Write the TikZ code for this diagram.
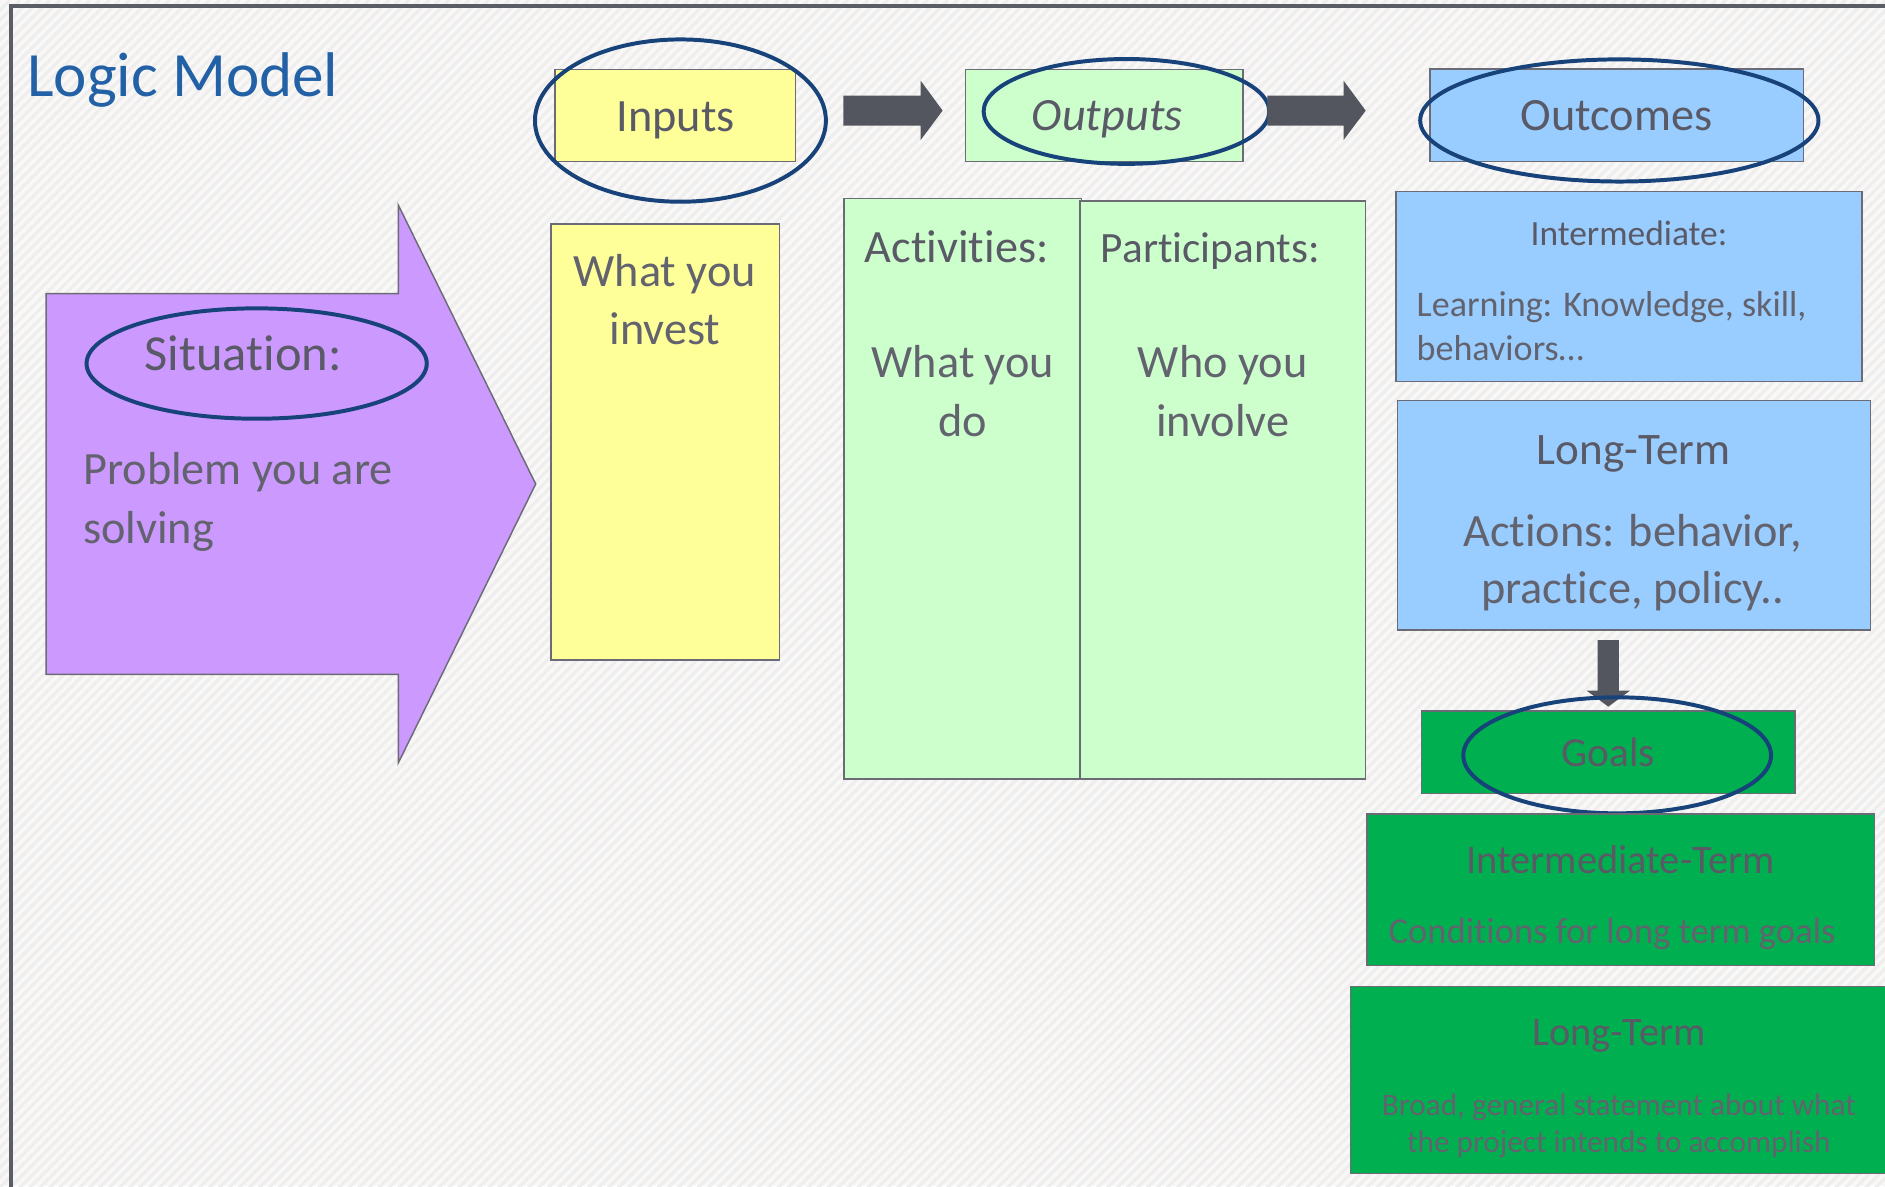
\documentclass[tikz,border=0pt]{standalone}
\usepackage{fontspec}
\setmainfont{Carlito}[RawFeature={-liga;-clig;-calt;-dlig}]
\usetikzlibrary{shapes.geometric,fit}
\newcommand\tibreak{\kern0pt }
\definecolor{tgray}{HTML}{595A66}
\definecolor{bgray}{HTML}{62636E}
\definecolor{titleblue}{HTML}{2361A6}
\definecolor{ringc}{HTML}{17427A}
\definecolor{arrowc}{HTML}{53565F}
\definecolor{framec}{HTML}{5A5D66}
\definecolor{boxline}{HTML}{6A6B74}
\definecolor{bgbase}{HTML}{F9F8F6}
\definecolor{stripec}{HTML}{EFEEEE}
\definecolor{yel}{HTML}{FFFF99}
\definecolor{lgreen}{HTML}{CCFFCC}
\definecolor{lblue}{HTML}{99CCFF}
\definecolor{lpurple}{HTML}{CC99FF}
\definecolor{dgreen}{HTML}{00B050}
\begin{document}
\begin{tikzpicture}[x=1bp,y=-1bp,
  fsz/.style={font=\fontsize{#1bp}{#1bp}\selectfont},
  fszi/.style={font=\fontsize{#1bp}{#1bp}\selectfont\itshape},
  lbl/.style={inner sep=0pt, outer sep=0pt, text=tgray, anchor=base},
  lblw/.style={inner sep=0pt, outer sep=0pt, text=tgray, anchor=base west},
  body/.style={text=bgray},
  box/.style={draw=boxline, line width=1.2bp, inner sep=0pt, outer sep=0pt, rectangle},
  ring/.style={draw=ringc, line width=3.3bp, ellipse, inner sep=0pt, outer sep=0pt},
  blockarrow/.style={fill=arrowc}]
\useasboundingbox (0,0) rectangle (1568,986.6);
% background
\fill[bgbase] (0,0) rectangle (1568,986.6);
\begin{scope}
  \clip (0,0) rectangle (1568,986.6);
  \foreach \i in {0,8.3,...,2565} \draw[stripec, line width=2.6bp] (\i-990,990) -- (\i,0);
\end{scope}
% frame
\draw[framec, line width=3.4bp] (9.3,990) -- (9.3,5.3) -- (1570,5.3);
% title
\node[inner sep=0pt, anchor=base west, text=titleblue, fsz=52.5] (title) at (22.5,80) {Logic Model};

% situation arrow
\draw[draw=boxline, line width=1.2bp, fill=lpurple] (38.3,244.3) -- (331.3,244.3) -- (331.3,170.5) -- (445.6,402.6) -- (331.3,634.7) -- (331.3,560.9) -- (38.3,560.9) -- cycle;
\node[ring, minimum width=283bp, minimum height=91.8bp] (sitring) at (213.5,302.4) {};
\node[lbl, fsz=42] (sit) at (202.4,307.8) {Situat\tibreak ion:};
\node[lblw, body, fsz=38.5] (prob1) at (69.3,403.4) {Problem you are};
\node[lblw, body, fsz=38.5] (prob2) at (69.3,452) {solving};

% top header boxes
\node[box, fill=yel, fit={(461.7,57.7) (661.9,134.5)}] (inputs) {};
\node[box, fill=lgreen, fit={(803.3,57.7) (1034.1,134.5)}] (outputs) {};
\node[box, fill=lblue, fit={(1189.5,57.4) (1500.3,134.5)}] (outcomes) {};
\node[lbl, fsz=38.5] (inputst) at (562,109) {Inputs};
\node[lbl, fszi=38.5] (outputst) at (921,108.7) {Outputs};
\node[lbl, fsz=38.5] (outcomest) at (1344.8,108.7) {Outcomes};
\node[ring, minimum width=242bp, minimum height=135bp] (inring) at (566,100.3) {};
\node[ring, minimum width=237.6bp, minimum height=87.2bp] (outring) at (937,92.7) {};
\node[ring, minimum width=331.3bp, minimum height=101.6bp] (ocring) at (1347,100.2) {};

% block arrows
\fill[blockarrow] (701.5,79.6) -- (765.8,79.6) -- (765.8,67.1) -- (784.1,92) -- (765.8,116.5) -- (765.8,104.5) -- (701.5,104.5) -- cycle;
\fill[blockarrow] (1054.3,79.6) -- (1117.6,79.6) -- (1117.6,67.1) -- (1136,92) -- (1117.6,116.5) -- (1117.6,104.5) -- (1054.3,104.5) -- cycle;

% inputs body
\node[box, fill=yel, fit={(458.3,186.3) (648.3,549)}] (invest) {};
\node[lbl, body, fsz=38.5] (invest1) at (553,238.5) {What you};
\node[lbl, body, fsz=38.5] (invest2) at (553,286.4) {invest};

% outputs body
\node[box, fill=lgreen, fit={(702,165) (899.5,648)}] (activities) {};
\node[box, fill=lgreen, fit={(898.4,167.3) (1136,648)}] (participants) {};
\node[lblw, fsz=38.5] (actt) at (719.5,218.5) {Act\tibreak ivit\tibreak ies:};
\node[lblw, fsz=36] (partt) at (915.8,218.5) {Part\tibreak icipants:};
\node[lbl, body, fsz=38.5] (act1) at (801,314.1) {What you};
\node[lbl, body, fsz=38.5] (act2) at (801,363.3) {do};
\node[lbl, body, fsz=38.5] (part1) at (1017,314.1) {Who you};
\node[lbl, body, fsz=38.5] (part2) at (1017,363.3) {involve};

% outcomes body
\node[box, fill=lblue, fit={(1161.2,159.4) (1549,317.5)}] (interm) {};
\node[lbl, fsz=29.5] (intermt) at (1355,204.3) {Intermediate:};
\node[lblw, body, fsz=30] (interm1) at (1178.4,262.9) {Learning: Knowledge, skill,};
\node[lblw, body, fsz=30] (interm2) at (1178.4,299.5) {behaviors…};
\node[box, fill=lblue, fit={(1162.3,333.3) (1555.7,524)}] (longterm) {};
\node[lbl, fsz=37.5] (longtermt) at (1359,386) {Long-Term};
\node[lbl, body, fsz=38.5] (long1) at (1358,454.7) {Act\tibreak ions: behavior,};
\node[lbl, body, fsz=38.5] (long2) at (1358,501.9) {practice, policy..};

% down arrow
\fill[blockarrow] (1329,532.4) -- (1346.7,532.4) -- (1346.7,574.5) -- (1355.9,574.5) -- (1337.8,587.8) -- (1319.8,574.5) -- (1329,574.5) -- cycle;

% goals
\node[box, fill=dgreen, fit={(1182.6,591.4) (1493,659.9)}] (goals) {};
\node[lbl, fsz=34.4] (goalst) at (1337.8,637.7) {Goals};
\node[ring, minimum width=256bp, minimum height=96.5bp] (goalring) at (1345.2,628.3) {};
\node[box, fill=dgreen, fit={(1137.2,677.1) (1559.3,803.3)}] (intermterm) {};
\node[lbl, fsz=33.6] (itt) at (1348.2,726.4) {Intermediate-Term};
\node[lbl, body, fsz=30.4] (it1) at (1341,785.2) {Condit\tibreak ions for long term goals};
\node[box, fill=dgreen, fit={(1123.3,820.7) (1590,976)}] (longgoal) {};
\node[lbl, fsz=33.6] (lgt) at (1346.6,870) {Long-Term};
\node[lbl, body, fsz=26] (lg1) at (1346.6,927.5) {Broad, general statement about what};
\node[lbl, body, fsz=26] (lg2) at (1346.6,958.8) {the project intends to accomplish};
\end{tikzpicture}
\end{document}
